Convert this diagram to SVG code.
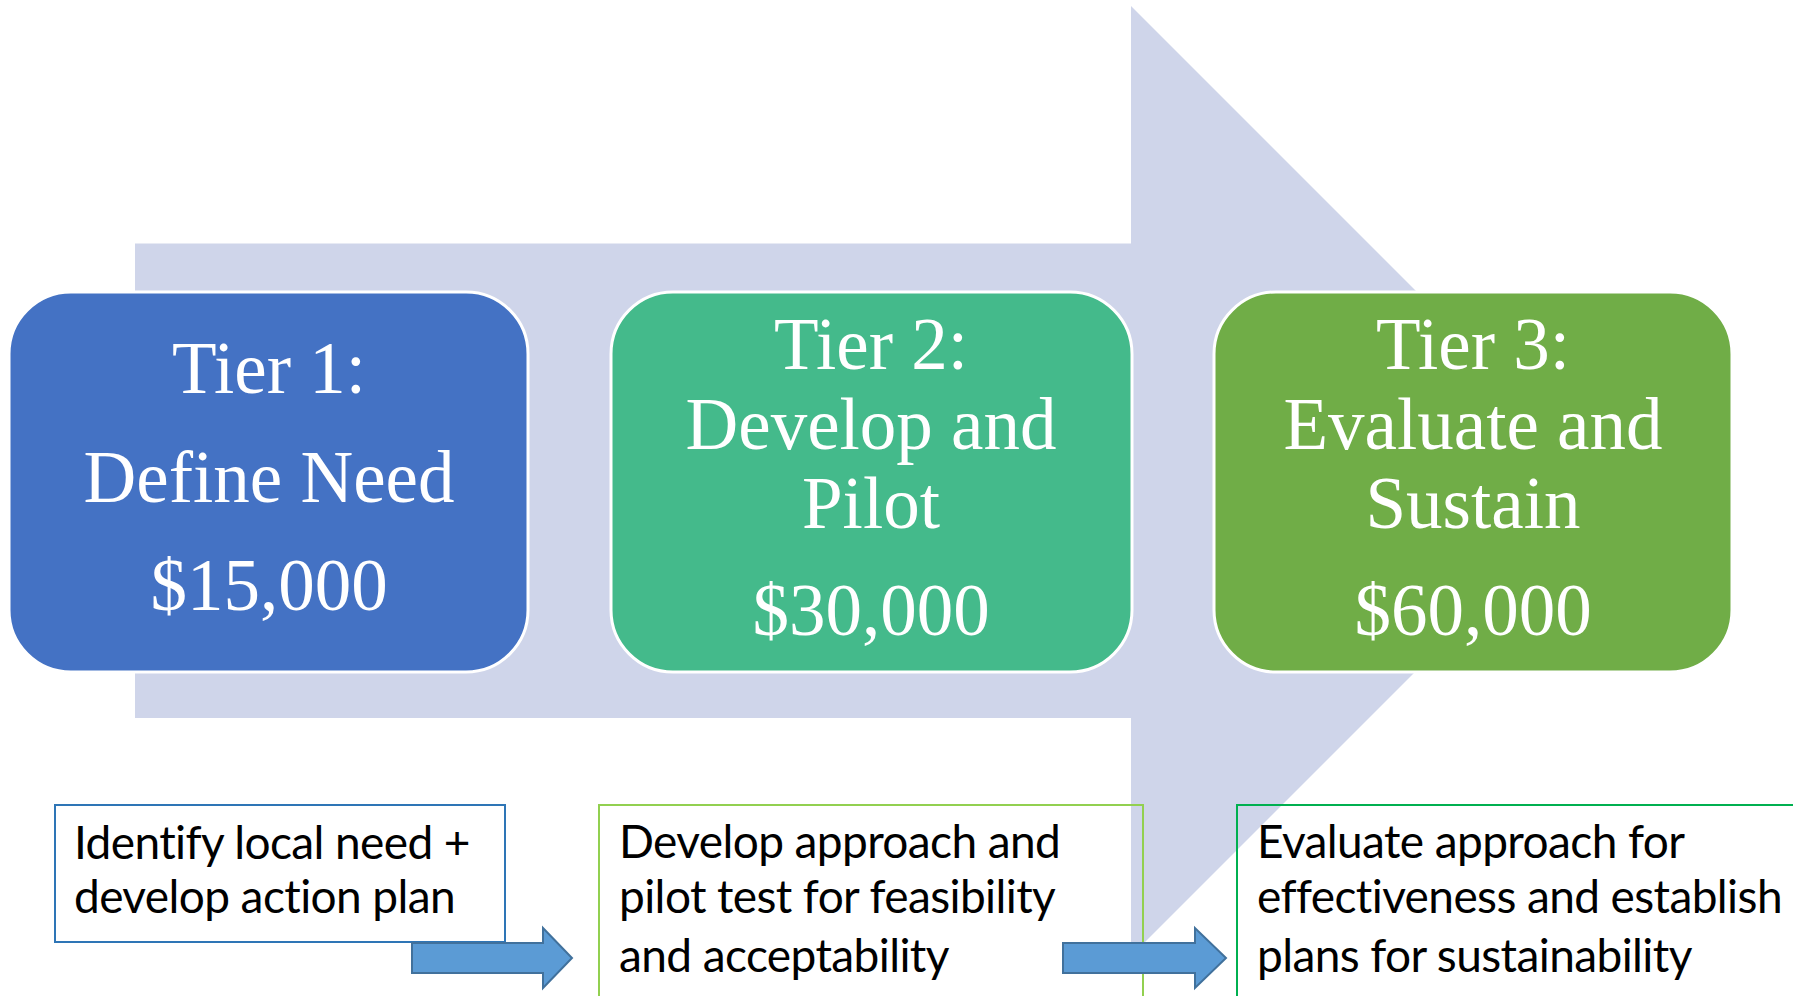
<svg xmlns="http://www.w3.org/2000/svg" width="1793" height="996" viewBox="0 0 1793 996">
<defs>
<style>
.tier{stroke:#ffffff;stroke-width:3}
.tt{font-family:"Liberation Serif","Times New Roman",serif;font-size:73px;fill:#ffffff;text-anchor:middle}
.desc{fill:none;stroke-width:2}
.dt{font-family:Lato,"Liberation Sans",sans-serif;font-size:46px;letter-spacing:-0.6px;fill:#000000}
.sa{fill:#5B9BD5;stroke:#41719C;stroke-width:2}
</style>
</defs>
<rect width="1793" height="996" fill="#ffffff"/>
<g id="big-arrow">
<polygon points="135,243.5 1131,243.5 1131,6 1606,481 1131,956 1131,718 135,718" fill="#CFD5EA"/>
</g>
<g id="tier1">
<rect class="tier" x="9" y="292" width="519" height="380" rx="62" fill="#4472C4"/>
<text class="tt" x="269" y="393">Tier 1:</text>
<text class="tt" x="269" y="502">Define Need</text>
<text class="tt" x="269" y="610">$15,000</text>
</g>
<g id="tier2">
<rect class="tier" x="611" y="292" width="521" height="380" rx="62" fill="#44BA8B"/>
<text class="tt" x="871" y="369">Tier 2:</text>
<text class="tt" x="871" y="449">Develop and</text>
<text class="tt" x="871" y="528">Pilot</text>
<text class="tt" x="871" y="635">$30,000</text>
</g>
<g id="tier3">
<rect class="tier" x="1214" y="292" width="518" height="380" rx="62" fill="#70AD47"/>
<text class="tt" x="1473" y="369">Tier 3:</text>
<text class="tt" x="1473" y="449">Evaluate and</text>
<text class="tt" x="1473" y="528">Sustain</text>
<text class="tt" x="1473" y="635">$60,000</text>
</g>
<g id="desc1">
<rect class="desc" x="55" y="805" width="450" height="137" stroke="#2E75B6"/>
<text class="dt" x="74" y="859">Identify local need +</text>
<text class="dt" x="74" y="913">develop action plan</text>
</g>
<g id="desc2">
<rect class="desc" x="599" y="805" width="544" height="200" stroke="#92D050"/>
<text class="dt" x="619" y="858">Develop approach and</text>
<text class="dt" x="619" y="913">pilot test for feasibility</text>
<text class="dt" x="619" y="972">and acceptability</text>
</g>
<g id="desc3">
<rect class="desc" x="1237" y="805" width="570" height="200" stroke="#00B050"/>
<text class="dt" x="1257" y="858">Evaluate approach for</text>
<text class="dt" x="1257" y="913">effectiveness and establish</text>
<text class="dt" x="1257" y="972">plans for sustainability</text>
</g>
<g id="connectors">
<polygon class="sa" points="412,943 543,943 543,928 572,958 543,988 543,973 412,973"/>
<polygon class="sa" points="1063,943 1195,943 1195,928 1226,958 1195,988 1195,973 1063,973"/>
</g>
</svg>
